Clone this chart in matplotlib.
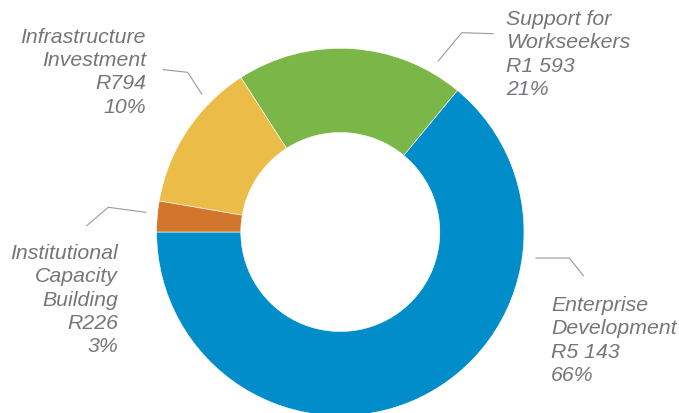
import matplotlib
matplotlib.use("Agg")
import matplotlib.pyplot as plt

# Data
categories = [["Enterprise", "Development"], ["Support for", "Workseekers"],
              ["Infrastructure", "Investment"], ["Institutional", "Capacity", "Building"]]
amounts = ["R5 143", "R1 593", "R794", "R226"]
percent_labels = ["66%", "21%", "10%", "3%"]
# slice shares as drawn in the picture (percent of the ring)
slice_shares = [64.0, 20.1, 13.2, 2.7]
colors = ["#008DC9", "#7AB648", "#EBBD48", "#D2762D"]

W, H = 679, 414
fig = plt.figure(figsize=(W / 100, H / 100), dpi=100)
ax = fig.add_axes([0, 0, 1, 1])

cx, cy, R = 340.3, H - 233.0, 183.7
ax.pie(slice_shares, colors=colors, startangle=180, counterclock=True,
       center=(cx, cy), radius=R,
       wedgeprops=dict(width=R - 99.5, edgecolor="white", linewidth=0.4))
ax.set_xlim(0, W)
ax.set_ylim(0, H)
ax.set_aspect("equal")
ax.axis("off")

txt_color = "#757679"
line_color = "#9A9A9A"
font = dict(family=["Liberation Sans", "DejaVu Sans"], style="italic",
            fontsize=15.3, color=txt_color)
step = 23.3

def py(y):
    return H - y

def block(i, x, y0, ha):
    lines = categories[i] + [amounts[i], percent_labels[i]]
    for k, s in enumerate(lines):
        ax.text(x, py(y0 + k * step), s, ha=ha, va="baseline", **font)

# Infrastructure (top-left)
block(2, 146, 42.7, "right")
ax.plot([163.3, 187.7, 201.7], [py(70.7), py(73.3), py(95)], color=line_color, lw=0.8)

# Support for Workseekers (top-right)
block(1, 506.5, 25, "left")
ax.plot([493.3, 461.7, 438.3], [py(34.7), py(33.7), py(62)], color=line_color, lw=0.8)

# Institutional (left)
block(3, 118, 259, "right")
ax.plot([145.7, 108.3, 86.7], [py(213.3), py(208.3), py(226.7)], color=line_color, lw=0.8)

# Enterprise (right)
block(0, 551, 311, "left")
ax.plot([536, 569.3, 583.3], [py(259), py(259), py(276.7)], color=line_color, lw=0.8)

fig.savefig("out.png", dpi=100)
